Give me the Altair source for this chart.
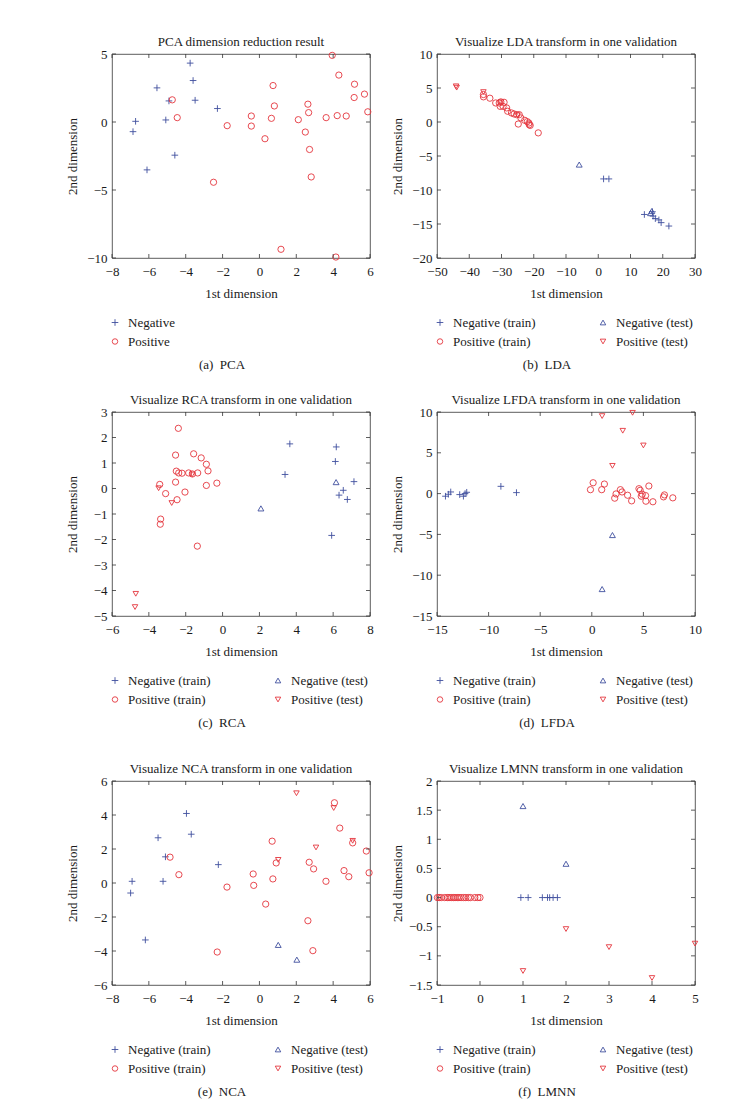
import altair as alt
import pandas as pd

FONT = "Liberation Serif"
FS = 13
BLUE = "#3f4f9e"
RED = "#e4353d"
FRAME = "#333333"
TXT = "#1a1a1a"
PLUS = "M-1,0L1,0M0,-1L0,1"
W, H = 258, 204

# ---------------- data ----------------
# (a) PCA
pca_neg_x = [-3.76, -5.56, -3.60, -4.91, -3.49, -2.28, -6.72, -5.08, -6.86, -4.59, -6.10]
pca_neg_y = [4.33, 2.51, 3.05, 1.55, 1.60, 0.99, 0.05, 0.15, -0.71, -2.44, -3.52]
pca_pos_x = [3.95, 4.31, -4.73, -4.46, -1.75, -0.44, -0.44, 0.74, 0.81, 0.65, 0.30, 2.11, 2.49,
             2.63, 2.67, 2.72, 2.81, 3.62, 4.22, 4.71, 5.16, 5.14, -2.49, 1.17, 4.15, 5.70, 5.88]
pca_pos_y = [4.90, 3.45, 1.63, 0.32, -0.27, 0.44, -0.30, 2.68, 1.18, 0.27, -1.23, 0.17, -0.74,
             1.31, 0.69, -2.02, -4.04, 0.32, 0.47, 0.44, 2.78, 1.80, -4.43, -9.36, -9.93, 2.05, 0.75]
pca_xticks = [-8, -6, -4, -2, 0, 2, 4, 6]
pca_yticks = [-10, -5, 0, 5]

# (b) LDA
lda_ntr_x = [1.65, 3.3, 14.3, 16.8, 17.0, 17.7, 18.8, 19.5, 21.9]
lda_ntr_y = [-8.37, -8.37, -13.6, -13.2, -13.84, -14.2, -14.4, -14.8, -15.3]
lda_ptr_x = [-35.6, -35.6, -33.6, -31.8, -30.7, -30.2, -29.2, -30.4, -29.5, -28.4, -28.1, -26.9,
             -26.1, -25.3, -24.5, -24.8, -24.0, -22.8, -21.5, -21.1, -18.6, -22.0, -21.4]
lda_ptr_y = [4.04, 3.7, 3.5, 2.8, 2.8, 2.96, 2.9, 2.3, 2.3, 2.07, 1.58, 1.33,
             1.18, 1.08, 1.08, -0.3, 0.6, 0.25, -0.15, -0.5, -1.6, 0.05, -0.4]
lda_nte_x = [-5.9, 16.6, 16.2]
lda_nte_y = [-6.26, -13.1, -13.4]
lda_pte_x = [-44.1, -43.9, -35.6, -30.2, -25.0]
lda_pte_y = [5.25, 5.05, 4.4, 2.9, 1.0]
lda_xticks = [-50, -40, -30, -20, -10, 0, 10, 20, 30]
lda_yticks = [-20, -15, -10, -5, 0, 5, 10]

# (c) RCA
rca_ntr_x = [3.65, 3.39, 6.17, 6.12, 6.55, 6.32, 6.77, 7.13, 5.92]
rca_ntr_y = [1.75, 0.55, 1.63, 1.06, -0.07, -0.26, -0.43, 0.27, -1.84]
rca_ptr_x = [-2.40, -2.55, -1.57, -1.16, -0.88, -0.79, -2.51, -2.38, -2.20, -1.84, -1.64,
             -1.35, -2.55, -0.88, -0.31, -3.41, -3.09, -2.04, -2.47, -3.36, -3.38, -1.37]
rca_ptr_y = [2.36, 1.31, 1.36, 1.20, 0.95, 0.69, 0.68, 0.61, 0.60, 0.61, 0.57,
             0.61, 0.25, 0.12, 0.21, 0.16, -0.20, -0.14, -0.44, -1.20, -1.40, -2.26]
rca_nte_x = [2.08, 6.16]
rca_nte_y = [-0.78, 0.25]
rca_pte_x = [-3.47, -2.76, -4.71, -4.75, -1.65]
rca_pte_y = [0.01, -0.57, -4.13, -4.65, 0.55]
rca_xticks = [-6, -4, -2, 0, 2, 4, 6, 8]
rca_yticks = [-5, -4, -3, -2, -1, 0, 1, 2, 3]

# (d) LFDA
lfda_ntr_x = [-14.18, -13.9, -13.67, -12.8, -12.44, -12.28, -12.12, -8.81, -7.3]
lfda_ntr_y = [-0.32, -0.08, 0.2, -0.12, -0.32, 0.0, 0.16, 0.89, 0.12]
lfda_ptr_x = [0.13, 1.22, -0.13, 0.96, 2.77, 2.93, 2.35, 2.22, 3.47, 3.86, 4.57,
              4.69, 4.89, 4.79, 5.21, 5.24, 5.53, 5.92, 6.95, 7.04, 7.85]
lfda_ptr_y = [1.33, 1.17, 0.48, 0.48, 0.48, 0.2, -0.04, -0.56, -0.2, -0.89, 0.6,
              0.4, -0.08, -0.32, -0.24, -0.93, 0.93, -1.0, -0.4, -0.16, -0.52]
lfda_nte_x = [2.0, 1.0]
lfda_nte_y = [-5.08, -11.7]
lfda_pte_x = [1.0, 3.95, 3.0, 5.0, 2.0]
lfda_pte_y = [9.5, 9.9, 7.7, 5.9, 3.4]
lfda_xticks = [-15, -10, -5, 0, 5, 10]
lfda_yticks = [-15, -10, -5, 0, 5, 10]

# (e) NCA
nca_ntr_x = [-3.96, -3.70, -5.50, -5.10, -2.23, -6.91, -5.23, -6.99, -6.19]
nca_ntr_y = [4.09, 2.87, 2.66, 1.54, 1.08, 0.10, 0.10, -0.59, -3.35]
nca_ptr_x = [-4.85, -4.37, -1.76, -0.34, -0.31, 0.69, 0.73, 0.34, 0.91, 2.70, 2.94,
             3.61, 4.07, 4.36, 4.59, 4.85, 5.06, 2.63, 2.90, -2.29, 5.80, 5.95]
nca_ptr_y = [1.52, 0.49, -0.24, 0.53, -0.14, 2.46, 0.24, -1.24, 1.18, 1.22, 0.83,
             0.10, 4.72, 3.23, 0.73, 0.37, 2.36, -2.22, -3.98, -4.06, 1.88, 0.60]
nca_nte_x = [1.02, 2.03]
nca_nte_y = [-3.64, -4.51]
nca_pte_x = [2.01, 4.03, 1.02, 3.07, 5.06]
nca_pte_y = [5.28, 4.41, 1.36, 2.09, 2.48]
nca_xticks = [-8, -6, -4, -2, 0, 2, 4, 6]
nca_yticks = [-6, -4, -2, 0, 2, 4, 6]

# (f) LMNN
lmnn_ntr_x = [0.95, 1.12, 1.45, 1.57, 1.62, 1.70, 1.80]
lmnn_ntr_y = [0, 0, 0, 0, 0, 0, 0]
lmnn_ptr_x = [-0.99, -0.95, -0.90, -0.82, -0.76, -0.72, -0.67, -0.62, -0.58, -0.53,
              -0.49, -0.44, -0.38, -0.33, -0.27, -0.22, -0.12, -0.05, 0.0]
lmnn_ptr_y = [0, 0, 0, 0, 0, 0, 0, 0, 0, 0, 0, 0, 0, 0, 0, 0, 0, 0, 0]
lmnn_nte_x = [1.0, 2.0]
lmnn_nte_y = [1.57, 0.58]
lmnn_pte_x = [2.0, 3.0, 4.0, 5.0, 1.0]
lmnn_pte_y = [-0.54, -0.85, -1.38, -0.79, -1.26]
lmnn_xticks = [-1, 0, 1, 2, 3, 4, 5]
lmnn_yticks = [-1.5, -1, -0.5, 0, 0.5, 1, 1.5, 2]

titles = ["PCA dimension reduction result",
          "Visualize LDA transform in one validation",
          "Visualize RCA transform in one validation",
          "Visualize LFDA transform in one validation",
          "Visualize NCA transform in one validation",
          "Visualize LMNN transform in one validation"]
captions = ["(a)\u2002PCA", "(b)\u2002LDA", "(c)\u2002RCA", "(d)\u2002LFDA", "(e)\u2002NCA", "(f)\u2002LMNN"]
labels_pca = ["Negative", "Positive"]
labels_4 = ["Negative (train)", "Positive (train)", "Negative (test)", "Positive (test)"]

KINDS = ["ntr", "ptr", "nte", "pte"]
SHAPES = {"ntr": PLUS, "ptr": "circle", "nte": "triangle-up", "pte": "triangle-down"}
COLORS = {"ntr": BLUE, "ptr": RED, "nte": BLUE, "pte": RED}
SIZES = {"ntr": 44, "ptr": 30, "nte": 30, "pte": 30}


def txt(s, x, y, align="left", opacity=1.0):
    return alt.Chart(pd.DataFrame({"t": [s]})).mark_text(
        font=FONT, fontSize=FS, align=align, baseline="middle", color=TXT, opacity=opacity
    ).encode(text="t:N", x=alt.value(x), y=alt.value(y))


def sym(kind, x, y):
    return alt.Chart(pd.DataFrame({"k": [kind]})).mark_point(
        filled=False, strokeWidth=0.9, shape=SHAPES[kind], color=COLORS[kind],
        size=SIZES[kind], opacity=1
    ).encode(x=alt.value(x), y=alt.value(y))


def panel(title, caption, series, xdom, ydom, xticks, yticks, labels, extra_top=0):
    rows = []
    for kind, xs, ys in series:
        for a, b in zip(xs, ys):
            rows.append({"x": a, "y": b, "kind": kind})
    df = pd.DataFrame(rows)
    xs = alt.Scale(domain=xdom, nice=False, zero=False)
    ys = alt.Scale(domain=ydom, nice=False, zero=False)
    x_axis = alt.Axis(values=xticks, title="1st dimension", ticks=False, domain=False,
                      grid=False, labelPadding=7, titleY=35, titleBaseline="middle",
                      labelFlush=False, labelOverlap=False, format="~f")
    y_axis = alt.Axis(values=yticks, title="2nd dimension", ticks=False, domain=False,
                      grid=False, labelPadding=5, titleX=-40, titleY=H / 2,
                      titleAngle=270, titleBaseline="middle", titleAlign="center",
                      labelFlush=False, labelOverlap=False, format="~f")
    pts = alt.Chart(df).mark_point(filled=False, strokeWidth=0.9, opacity=1).encode(
        x=alt.X("x:Q", scale=xs, axis=x_axis),
        y=alt.Y("y:Q", scale=ys, axis=y_axis),
        shape=alt.Shape("kind:N", scale=alt.Scale(domain=KINDS, range=[SHAPES[k] for k in KINDS]), legend=None),
        color=alt.Color("kind:N", scale=alt.Scale(domain=KINDS, range=[COLORS[k] for k in KINDS]), legend=None),
        size=alt.Size("kind:N", scale=alt.Scale(domain=KINDS, range=[SIZES[k] for k in KINDS]), legend=None),
    )
    xt = pd.DataFrame({"v": xticks})
    yt = pd.DataFrame({"v": yticks})
    rule = dict(color=FRAME, strokeWidth=0.8)
    tb = alt.Chart(xt).mark_rule(**rule).encode(
        x=alt.X("v:Q", scale=xs, axis=x_axis), y=alt.value(H), y2=alt.value(H - 4))
    tt = alt.Chart(xt).mark_rule(**rule).encode(
        x=alt.X("v:Q", scale=xs, axis=x_axis), y=alt.value(0), y2=alt.value(4))
    tl = alt.Chart(yt).mark_rule(**rule).encode(
        y=alt.Y("v:Q", scale=ys, axis=y_axis), x=alt.value(0), x2=alt.value(4))
    tr = alt.Chart(yt).mark_rule(**rule).encode(
        y=alt.Y("v:Q", scale=ys, axis=y_axis), x=alt.value(W), x2=alt.value(W - 4))

    layers = [pts, tb, tt, tl, tr, txt(title, W / 2, -12.5, align="center")]
    ly1, ly2 = H + 64.5, H + 83.5
    kinds_legend = KINDS[:len(labels)]
    pos = [(3, ly1), (3, ly2), (166, ly1), (166, ly2)]
    for k, lab, (px, py) in zip(kinds_legend, labels, pos):
        layers.append(sym(k, px, py))
        layers.append(txt(lab, px + 13, py))
    layers.append(txt(caption, 110, 311, align="center"))
    if extra_top:
        layers.append(txt("X", W / 2, -12.5 - extra_top, align="center", opacity=0))
    return alt.layer(*layers).properties(width=W, height=H)


p1 = panel(titles[0], captions[0],
           [("ntr", pca_neg_x, pca_neg_y), ("ptr", pca_pos_x, pca_pos_y)],
           [-8, 6], [-10, 5], pca_xticks, pca_yticks, labels_pca)
p2 = panel(titles[1], captions[1],
           [("ntr", lda_ntr_x, lda_ntr_y), ("ptr", lda_ptr_x, lda_ptr_y),
            ("nte", lda_nte_x, lda_nte_y), ("pte", lda_pte_x, lda_pte_y)],
           [-50, 30], [-20, 10], lda_xticks, lda_yticks, labels_4)
p3 = panel(titles[2], captions[2],
           [("ntr", rca_ntr_x, rca_ntr_y), ("ptr", rca_ptr_x, rca_ptr_y),
            ("nte", rca_nte_x, rca_nte_y), ("pte", rca_pte_x, rca_pte_y)],
           [-6, 8], [-5, 3], rca_xticks, rca_yticks, labels_4)
p4 = panel(titles[3], captions[3],
           [("ntr", lfda_ntr_x, lfda_ntr_y), ("ptr", lfda_ptr_x, lfda_ptr_y),
            ("nte", lfda_nte_x, lfda_nte_y), ("pte", lfda_pte_x, lfda_pte_y)],
           [-15, 10], [-15, 10], lfda_xticks, lfda_yticks, labels_4)
p5 = panel(titles[4], captions[4],
           [("ntr", nca_ntr_x, nca_ntr_y), ("ptr", nca_ptr_x, nca_ptr_y),
            ("nte", nca_nte_x, nca_nte_y), ("pte", nca_pte_x, nca_pte_y)],
           [-8, 6], [-6, 6], nca_xticks, nca_yticks, labels_4, extra_top=11)
p6 = panel(titles[5], captions[5],
           [("ntr", lmnn_ntr_x, lmnn_ntr_y), ("ptr", lmnn_ptr_x, lmnn_ptr_y),
            ("nte", lmnn_nte_x, lmnn_nte_y), ("pte", lmnn_pte_x, lmnn_pte_y)],
           [-1, 5], [-1.5, 2], lmnn_xticks, lmnn_yticks, labels_4, extra_top=11)

chart = alt.concat(p1, p2, p3, p4, p5, p6, columns=2).properties(
    spacing={"row": 20, "column": 15},
    align="each",
    padding={"left": 57, "top": 27, "right": 5, "bottom": 5},
).configure_view(
    stroke=FRAME, strokeWidth=0.8
).configure_axis(
    labelFont=FONT, labelFontSize=FS, labelColor=TXT,
    titleFont=FONT, titleFontSize=FS, titleColor=TXT, titleFontWeight="normal"
)

chart.save("out.html", embed_options={"renderer": "svg", "actions": False})
